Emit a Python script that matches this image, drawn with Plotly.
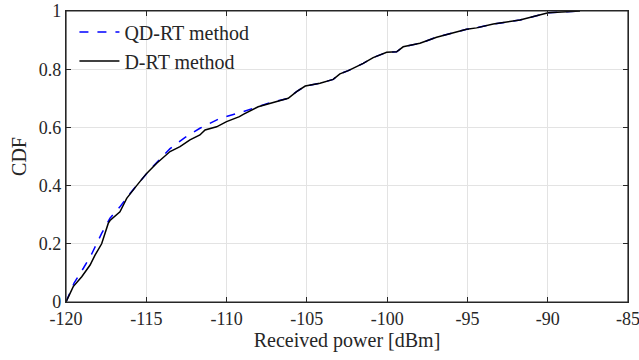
import plotly.graph_objects as go

drt_power = [-120, -119.55, -119.02, -118.5, -118.2, -117.78, -117.37, -117.26, -116.64, -116.22,
             -115.6, -114.98, -114.35, -113.52, -112.9, -112.28, -111.66, -111.34, -110.62, -110.0,
             -109.2, -108.96, -108.03, -107.3, -106.16, -105.64, -105.1, -104.18, -103.36, -102.94,
             -102.42, -101.49, -100.87, -100.03, -99.41, -99.0, -97.96, -96.92, -95.9, -95.05,
             -94.43, -93.39, -91.73, -90.48, -89.97, -87.99]
drt_cdf = [0.0, 0.053, 0.087, 0.127, 0.16, 0.2, 0.27, 0.28, 0.31, 0.356,
           0.40, 0.442, 0.477, 0.517, 0.534, 0.557, 0.574, 0.591, 0.602, 0.62,
           0.637, 0.645, 0.671, 0.683, 0.70, 0.723, 0.742, 0.752, 0.765, 0.784,
           0.795, 0.82, 0.84, 0.858, 0.86, 0.877, 0.889, 0.91, 0.925, 0.937,
           0.942, 0.955, 0.969, 0.986, 0.994, 1.0]

qdrt_power = [-120, -119.5, -118.92, -118.4, -117.78, -117.26, -116.6, -116.0, -115.3, -114.6,
              -113.52, -112.6, -111.66, -110.41, -109.2, -108.0, -107.3, -106.16, -105.64, -105.1,
              -104.18, -103.36, -102.94, -102.42, -101.49, -100.87, -100.03, -99.41, -99.0, -97.96,
              -96.92, -95.9, -95.05, -94.43, -93.39, -91.73, -90.48, -89.97, -87.99]
qdrt_cdf = [0.0, 0.065, 0.116, 0.165, 0.236, 0.288, 0.33, 0.374, 0.42, 0.465,
            0.527, 0.565, 0.597, 0.631, 0.65, 0.672, 0.685, 0.70, 0.723, 0.742,
            0.752, 0.765, 0.784, 0.795, 0.82, 0.84, 0.858, 0.86, 0.877, 0.889,
            0.91, 0.925, 0.937, 0.942, 0.955, 0.969, 0.986, 0.994, 1.0]

x_ticks = [-120, -115, -110, -105, -100, -95, -90, -85]
x_tick_labels = ["-120", "-115", "-110", "-105", "-100", "-95", "-90", "-85"]
y_ticks = [0, 0.2, 0.4, 0.6, 0.8, 1]
y_tick_labels = ["0", "0.2", "0.4", "0.6", "0.8", "1"]

FONT = "Liberation Serif"
AX = "#262626"

fig = go.Figure()
fig.add_trace(go.Scatter(x=qdrt_power, y=qdrt_cdf, mode="lines", name="QD-RT method",
                         line=dict(color="#0000ff", width=1.5, dash="dash")))
fig.add_trace(go.Scatter(x=drt_power, y=drt_cdf, mode="lines", name="D-RT method",
                         line=dict(color="#000000", width=1.5)))

axis_common = dict(showline=True, linecolor=AX, linewidth=1.2, mirror="ticks",
                   ticks="inside", ticklen=5, tickcolor=AX, showgrid=True,
                   gridcolor="#e3e3e3", gridwidth=1.2, zeroline=False, automargin=False,
                   ticklabeloverflow="allow",
                   tickfont=dict(family=FONT, size=18, color=AX))

fig.update_xaxes(range=[-120, -85], tickvals=x_ticks, ticktext=x_tick_labels,
                 title=dict(text="Received power [dBm]", font=dict(family=FONT, size=20, color=AX), standoff=4),
                 **axis_common)
fig.update_yaxes(range=[0, 1], tickvals=y_ticks, ticktext=y_tick_labels,
                 title=dict(text="CDF", font=dict(family=FONT, size=20, color=AX), standoff=6),
                 **axis_common)

fig.add_shape(type="rect", xref="paper", yref="paper", x0=0, y0=0, x1=1, y1=1,
              line=dict(color=AX, width=1.2), fillcolor="rgba(0,0,0,0)", layer="above")

fig.update_layout(width=639, height=360, margin=dict(l=66, r=11, t=11, b=58),
                  plot_bgcolor="white", paper_bgcolor="white",
                  legend=dict(x=0.015, y=0.995, xanchor="left", yanchor="top",
                              bgcolor="rgba(255,255,255,0)", borderwidth=0,
                              font=dict(family=FONT, size=20, color=AX),
                              tracegroupgap=0, itemwidth=40),
                  showlegend=True)

fig.write_html("out.html")
